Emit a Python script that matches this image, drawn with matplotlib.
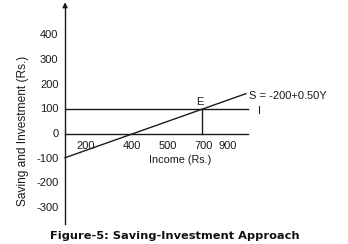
import matplotlib.pyplot as plt

plt.rcParams["font.family"] = ["Liberation Sans", "DejaVu Sans"]

# saving line S = a + bY as drawn (schematic, not to scale)
s_income = [113, 888]
s_saving = [-96, 163]
investment = 100
equilibrium_income = 700
line_end = 897

y_ticks = [400, 300, 200, 100, 0, -100, -200, -300]
x_tick_pos = [200, 400, 555, 705, 812]
x_tick_labels = ["200", "400", "500", "700", "900"]

axis_x = 113
axis_top, axis_bottom = 534, -364

fig = plt.figure(figsize=(3.48, 2.44), dpi=100)
ax = fig.add_axes([0, 0, 1, 1])
ax.set_xlim(-166, 1326)
ax.set_ylim(-445, 542)
ax.axis("off")

col = "#1a1a1a"
lw = 1.0
fs = 8

# vertical axis with arrow
ax.plot([axis_x, axis_x], [axis_bottom, axis_top - 20], color=col, lw=lw)
ax.annotate("", xy=(axis_x, axis_top + 10), xytext=(axis_x, axis_top - 30),
            arrowprops=dict(arrowstyle="-|>", color=col, lw=lw, mutation_scale=7))

# zero line and investment line
ax.plot([axis_x, line_end], [0, 0], color=col, lw=lw)
ax.plot([axis_x, line_end], [investment, investment], color=col, lw=lw)
ax.plot([equilibrium_income, equilibrium_income], [0, investment], color=col, lw=lw)

# saving line
ax.plot(s_income, s_saving, color=col, lw=lw)

for v in y_ticks:
    ax.text(axis_x - 28, v, str(v), ha="right", va="center", fontsize=fs, color=col)
for p, lab in zip(x_tick_pos, x_tick_labels):
    ax.text(p, -48, lab, ha="center", va="center", fontsize=fs, color=col)

ax.text(line_end + 5, 155, "S = -200+0.50Y", ha="left", va="center", fontsize=fs, color=col)
ax.text(line_end + 45, investment - 5, "I", ha="left", va="center", fontsize=fs, color=col)
ax.text(equilibrium_income - 8, 130, "E", ha="center", va="center", fontsize=fs, color=col)

ax.text(606, -105, "Income (Rs.)", ha="center", va="center", fontsize=7.8, color=col)
ax.text(-66, 12, "Saving and Investment (Rs.)", ha="center", va="center",
        rotation=90, fontsize=8.6, color=col)

ax.text(584, -412, "Figure-5: Saving-Investment Approach", ha="center", va="center",
        fontsize=8.2, fontweight="bold", family="DejaVu Sans", color="#111111")

fig.savefig("out.png", dpi=100)
